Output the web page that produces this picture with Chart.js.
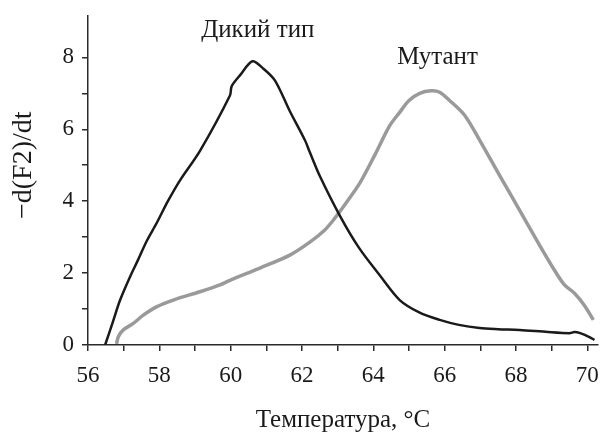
<!DOCTYPE html>
<html><head><meta charset="utf-8">
<script src="https://cdn.jsdelivr.net/npm/chart.js@4"></script>
<style>html,body{margin:0;padding:0;background:#fff}#wrap{width:606px;height:433px}</style>
</head><body><div id="wrap"><canvas id="c" width="606" height="433"></canvas></div>
<script>
const wtTemp = [56.48,56.7,56.9,57.18,57.4,57.65,57.93,58.24,58.58,59.14,59.98,60.03,60.26,60.61,60.9,61.24,61.66,62.08,62.22,62.5,63.06,63.6,64.18,64.74,65.3,65.86,66.4,66.98,67.5,68.1,68.9,69.5,69.64,69.8,70.06,70.2];
const wtVal  = [0,0.65,1.25,1.9,2.36,2.9,3.4,4.0,4.58,5.4,6.94,7.2,7.5,7.89,7.7,7.36,6.5,5.7,5.36,4.7,3.6,2.7,1.94,1.25,0.9,0.7,0.56,0.47,0.44,0.42,0.36,0.33,0.36,0.33,0.22,0.14];
const mutTemp = [56.8,56.85,56.99,57.27,57.55,57.92,58.39,59.14,59.7,59.98,60.82,61.66,62.22,62.64,62.9,63.2,63.62,64.04,64.46,64.74,65.0,65.3,65.62,65.86,66.14,66.56,66.98,67.54,68.1,68.66,69.08,69.36,69.64,69.92,70.17];
const mutVal  = [0.03,0.23,0.42,0.6,0.83,1.06,1.25,1.48,1.67,1.8,2.14,2.5,2.86,3.2,3.5,3.9,4.5,5.28,6.1,6.47,6.8,7.0,7.07,7.03,6.8,6.39,5.7,4.72,3.75,2.78,2.08,1.67,1.44,1.1,0.7];
const xTicks = [56,57,58,59,60,61,62,63,64,65,66,67,68,69,70];
const yTicks = [0,1,2,3,4,5,6,7,8];
const seriesNames = ['Дикий тип','Мутант'];
const labelPos = [[60.76,8.75],[65.8,8.0]];
const xTitle = 'Температура, °C';
const yTitle = '−d(F2)/dt';

const FONT = '"Liberation Serif", "DejaVu Serif", serif';
const axisColor = '#2a2a2a';

const labelsPlugin = {
  id: 'seriesLabels',
  afterDatasetsDraw(chart) {
    const ctx = chart.ctx, xs = chart.scales.x, ys = chart.scales.y;
    ctx.save();
    ctx.fillStyle = '#1a1a1a';
    ctx.font = '25px ' + FONT;
    ctx.textAlign = 'center';
    ctx.textBaseline = 'middle';
    seriesNames.forEach((n, i) => {
      ctx.fillText(n, xs.getPixelForValue(labelPos[i][0]), ys.getPixelForValue(labelPos[i][1]));
    });
    // y-axis title, rotated, placed beside the upper half of the axis
    ctx.translate(24, ys.getPixelForValue(5));
    ctx.rotate(-Math.PI/2);
    ctx.font = '28px ' + FONT;
    ctx.fillText(yTitle, 0, 0);
    ctx.restore();
  }
};

new Chart(document.getElementById('c'), {
  type: 'line',
  data: {
    datasets: [
      { label: seriesNames[0], data: wtTemp.map((t,i)=>({x:t,y:wtVal[i]})), borderColor:'#1a1a1a', borderWidth:2.5, pointRadius:0, tension:0.3, fill:false },
      { label: seriesNames[1], data: mutTemp.map((t,i)=>({x:t,y:mutVal[i]})), borderColor:'#9a9a9a', borderWidth:3.5, pointRadius:0, tension:0.3, fill:false }
    ]
  },
  options: {
    responsive:false, animation:false, devicePixelRatio:1,
    layout:{ padding:{ top:16, right:8, left:0, bottom:0 } },
    plugins:{ legend:{display:false}, tooltip:{enabled:false} },
    scales:{
      x:{
        type:'linear', min:56, max:70.3,
        afterBuildTicks(s){ s.ticks = xTicks.map(v=>({value:v})); },
        afterFit(s){ s.height = 88; s.paddingLeft = 0; s.paddingRight = 0; },
        grid:{ drawOnChartArea:false, tickLength:6, color:axisColor, tickColor:axisColor, lineWidth:1.5 },
        border:{ color:axisColor, width:1.5 },
        ticks:{ autoSkip:false, maxRotation:0, padding:11, color:'#1a1a1a', font:{family:FONT, size:23},
          callback:(v)=> v%2===0 ? String(v) : '' },
        title:{ display:true, text:xTitle, color:'#1a1a1a', font:{family:FONT, size:25}, padding:{top:10,bottom:-2} }
      },
      y:{
        type:'linear', min:0, max:9.15,
        afterBuildTicks(s){ s.ticks = yTicks.map(v=>({value:v})); },
        afterFit(s){ s.width = 88; s.paddingTop = 0; s.paddingBottom = 0; },
        grid:{ drawOnChartArea:false, tickLength:6, color:axisColor, tickColor:axisColor, lineWidth:1.5 },
        border:{ color:axisColor, width:1.5 },
        ticks:{ autoSkip:false, padding:8, color:'#1a1a1a', font:{family:FONT, size:23},
          callback:(v)=> v%2===0 ? String(v) : '' },
        title:{ display:false }
      }
    }
  },
  plugins:[labelsPlugin]
});
</script></body></html>
